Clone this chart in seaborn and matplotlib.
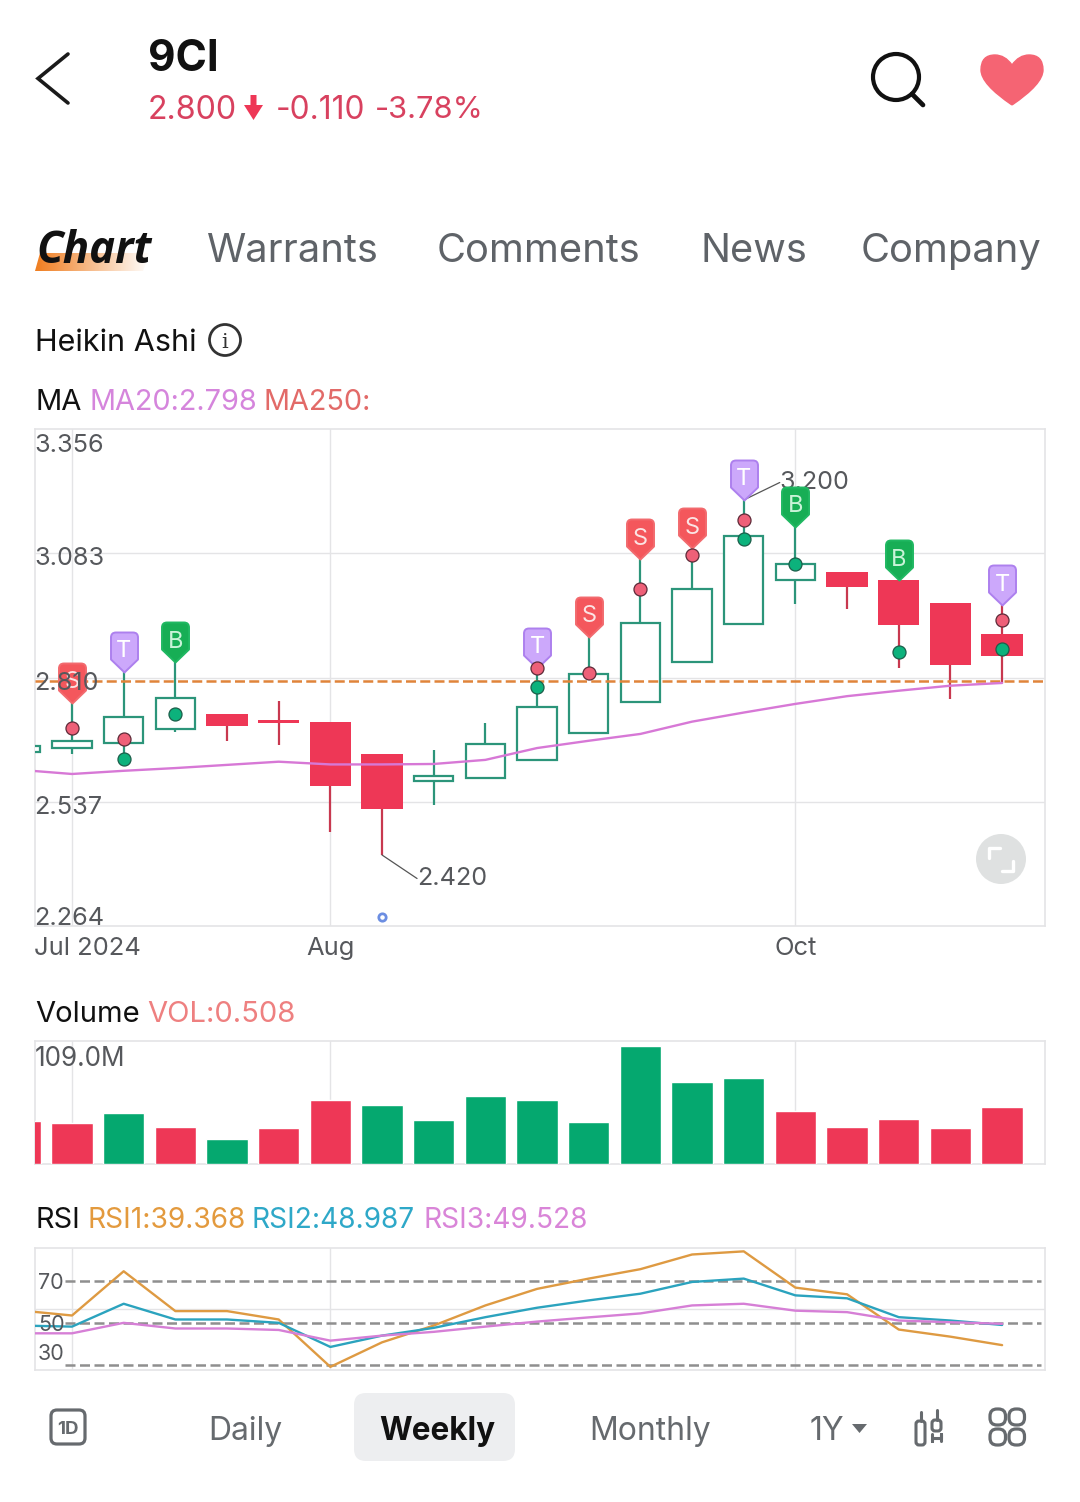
import matplotlib
matplotlib.use("Agg")
import matplotlib.pyplot as plt
from matplotlib.patches import Circle, FancyBboxPatch, PathPatch, Polygon
from matplotlib.path import Path
import numpy as np
import pandas as pd
import seaborn as sns

sns.set_theme(style="white")
plt.rcParams["font.family"] = ["Inter", "DejaVu Sans"]

W, H = 1080, 1502

# Candles, weekly (Heikin Ashi). The first one is cut off by the left edge.
weeks = list(range(-1, 19))
up = [True, True, True, True, False, False, False, False, True, True,
      True, True, True, True, True, True, False, False, False, False]
body_top = [2.660, 2.671, 2.724, 2.765, 2.730, 2.716, 2.713, 2.642, 2.593, 2.664,
            2.746, 2.818, 2.930, 3.005, 3.120, 3.060, 3.042, 3.024, 2.974, 2.905]
body_bottom = [2.647, 2.655, 2.665, 2.696, 2.703, 2.710, 2.571, 2.521, 2.583, 2.590,
               2.629, 2.689, 2.756, 2.845, 2.927, 3.025, 3.008, 2.925, 2.838, 2.858]
high = [2.660, 2.754, 2.823, 2.844, 2.730, 2.759, 2.713, 2.642, 2.650, 2.709,
        2.831, 2.899, 3.070, 3.094, 3.200, 3.141, 3.042, 3.024, 2.974, 2.969]
low = [2.647, 2.641, 2.631, 2.691, 2.671, 2.661, 2.471, 2.420, 2.530, 2.590,
       2.629, 2.689, 2.756, 2.845, 2.927, 2.971, 2.960, 2.830, 2.762, 2.797]
ma20 = [2.607, 2.598, 2.605, 2.611, 2.618, 2.625, 2.619, 2.619, 2.620, 2.629,
        2.655, 2.671, 2.686, 2.713, 2.733, 2.752, 2.769, 2.781, 2.792, 2.798]
volume = [38.1, 36.3, 45.6, 33.2, 22.2, 32.3, 56.7, 52.3, 39.4, 60.7,
          56.3, 36.8, 104.6, 72.7, 75.8, 47.0, 32.8, 39.9, 31.9, 50.5]
vol_up = [False, False, True, False, True, False, False, True, True, True,
          True, True, True, True, True, False, False, False, False, False]
rsi1 = [55.9, 53.5, 74.6, 55.6, 55.6, 51.6, 29.0, 40.7, 48.7, 58.3,
        66.2, 71.1, 75.6, 82.6, 84.1, 66.8, 63.6, 46.8, 43.4, 39.368]
rsi2 = [48.7, 48.2, 59.1, 51.6, 51.6, 50.0, 38.5, 43.9, 47.6, 52.7,
        57.2, 60.7, 63.9, 69.5, 71.1, 63.1, 61.7, 52.7, 51.1, 48.987]
rsi3 = [45.0, 45.0, 50.0, 47.3, 47.3, 46.6, 41.5, 43.9, 45.7, 48.2,
        50.6, 52.6, 54.5, 58.3, 59.1, 55.8, 55.1, 51.1, 50.3, 49.528]

# Signal dots and flags
red_dot_weeks = [0, 1, 9, 10, 11, 12, 13, 18]
red_dot_price = [2.700, 2.675, 2.830, 2.820, 3.005, 3.079, 3.157, 2.936]
green_dot_weeks = [1, 2, 9, 13, 14, 16, 18]
green_dot_price = [2.630, 2.730, 2.790, 3.114, 3.060, 2.865, 2.872]
flag_weeks = [0, 1, 2, 9, 10, 11, 12, 13, 14, 16, 18]
flag_letters = ["S", "T", "B", "T", "S", "S", "S", "T", "B", "B", "T"]

price_ticks = [3.356, 3.083, 2.810, 2.537, 2.264]
price_line = 2.802
month_weeks = [0, 5, 14]
month_labels = ["Jul 2024", "Aug", "Oct"]
rsi_levels = [70, 50, 30]
rsi_grid = 56.7
low_dot_week, low_dot_price = 6, 2.284

GRID = "#E4E4E6"
TICK = "#56585C"
GREEN = "#2C957A"
GREEN_BAR = "#05A86F"
RED = "#EE3756"
RED_WICK = "#C8384F"
TAB = "#5F6368"
XLIM = (-0.716, 18.83)
VA = "center_baseline"

candles = pd.DataFrame({"week": weeks, "ma20": ma20, "volume": volume,
                        "vol_up": vol_up, "rsi1": rsi1, "rsi2": rsi2, "rsi3": rsi3})

fig = plt.figure(figsize=(W / 100, H / 100), dpi=100, facecolor="white")


def panel(x0, y0, x1, y1):
    ax = fig.add_axes([x0 / W, 1 - y1 / H, (x1 - x0) / W, (y1 - y0) / H])
    ax.set_xlim(*XLIM)
    ax.set_xticks([])
    ax.set_yticks([])
    for s in ax.spines.values():
        s.set_color(GRID)
        s.set_linewidth(1.2)
    for m in month_weeks:
        ax.axvline(m, color=GRID, lw=1.0, zorder=0)
    return ax


# Price panel
ax = panel(35, 429, 1045, 926)
ax.set_ylim(price_ticks[-1], price_ticks[0])
for t in price_ticks[1:-1]:
    ax.axhline(t, color=GRID, lw=1.0, zorder=0)
ax.axhline(price_line, color="#E0843A", lw=1.8, ls=(0, (4, 1.7)), zorder=4)

for w, is_up, top, bot, hi, lo in zip(weeks, up, body_top, body_bottom, high, low):
    col = GREEN if is_up else RED_WICK
    ax.vlines(w, lo, hi, color=col, lw=1.6, zorder=2)
    if is_up:
        ax.bar(w, top - bot, bottom=bot, width=0.76, facecolor="white",
               edgecolor=GREEN, linewidth=1.6, zorder=3)
    else:
        ax.bar(w, top - bot, bottom=bot, width=0.8, color=RED, linewidth=0, zorder=3)

sns.lineplot(data=candles, x="week", y="ma20", ax=ax, color="#D778D6", lw=1.7,
             errorbar=None, zorder=4)

sns.scatterplot(x=red_dot_weeks, y=red_dot_price, ax=ax, color="#EE6078", s=88,
                edgecolor="#5E2A38", linewidth=0.9, zorder=7)
sns.scatterplot(x=green_dot_weeks, y=green_dot_price, ax=ax, color="#0CB27C", s=88,
                edgecolor="#1C5E4A", linewidth=0.9, zorder=7)
sns.scatterplot(x=[low_dot_week], y=[low_dot_price], ax=ax, color="white", s=28,
                edgecolor="#6C8EE2", linewidth=2.0, zorder=7)

# pin shape with the tip on the wick's high
pin = Path([(0, 0), (13.5, 13), (13.5, 35), (13.5, 40), (8.5, 40), (-8.5, 40),
            (-13.5, 40), (-13.5, 35), (-13.5, 13), (0, 0)],
           [Path.MOVETO, Path.LINETO, Path.LINETO, Path.CURVE3, Path.CURVE3, Path.LINETO,
            Path.CURVE3, Path.CURVE3, Path.LINETO, Path.CLOSEPOLY])
flag_style = {"S": ("#F4575C", "#F26A6E", "#FBE4E4"),
              "T": ("#CCA8FB", "#AD80EE", "#FFFFFF"),
              "B": ("#17AE55", "#20B862", "#C9F3D8")}
for w, letter in zip(flag_weeks, flag_letters):
    fill, edge, ink = flag_style[letter]
    tip = high[weeks.index(w)]
    ax.scatter([w], [tip], marker=pin, s=3318, facecolor=fill, edgecolor=edge,
               linewidth=1.4, zorder=6, clip_on=False)
    ax.annotate(letter, (w, tip), xytext=(0, 23), textcoords="offset pixels",
                ha="center", va=VA, color=ink, fontsize=17, zorder=6.5)

# extremes
leader = dict(arrowstyle="-", color="#555555", lw=0.9, shrinkA=0, shrinkB=0,
              patchA=None, relpos=(0, 0.5))
ax.annotate("2.420", (6, min(low)), xytext=(35, -21), textcoords="offset pixels",
            ha="left", va=VA, color=TICK, fontsize=18.1, zorder=5, arrowprops=leader)
ax.annotate("3.200", (13, max(high)), xytext=(36, 20), textcoords="offset pixels",
            ha="left", va=VA, color=TICK, fontsize=18.1, zorder=5, arrowprops=leader)

# tick labels sit inside the panel
tick_offsets = [-14, -3, -4, -3, 10]
for t, off in zip(price_ticks, tick_offsets):
    ax.annotate(f"{t:.3f}", (0, t), xycoords=("axes fraction", "data"), xytext=(-1, off),
                textcoords="offset pixels", ha="left", va=VA, color=TICK,
                fontsize=18.2, zorder=10)

month_has = ["left", "center", "center"]
for m, label_text, ha in zip(month_weeks, month_labels, month_has):
    if ha == "left":
        ax.annotate(label_text, (0, 0), xycoords="axes fraction", xytext=(-1, -20),
                    textcoords="offset pixels", ha="left", va=VA, color=TICK, fontsize=18.4)
    else:
        ax.annotate(label_text, (m, 0), xycoords=("data", "axes fraction"), xytext=(0, -20),
                    textcoords="offset pixels", ha="center", va=VA, color=TICK, fontsize=18.4)

# Volume panel
vax = panel(35, 1041, 1045, 1164)
sns.barplot(data=candles, x="week", y="volume", hue="vol_up", native_scale=True,
            palette={True: GREEN_BAR, False: RED}, dodge=False, width=0.8, saturation=1,
            legend=False, ax=vax, zorder=3)
vax.set_xlim(*XLIM)
vax.set_ylim(0, 109.0)
vax.set(xlabel=None, ylabel=None, xticks=[], yticks=[])
vax.annotate("109.0M", (0, 1), xycoords="axes fraction", xytext=(0, -15),
             textcoords="offset pixels", ha="left", va=VA, color=TICK, fontsize=18.8, zorder=10)

# RSI panel
rax = panel(35, 1248, 1045, 1370)
rax.set_ylim(27.5, 85.7)
rax.axhline(rsi_grid, color=GRID, lw=1.0, zorder=0)
for lv, label_off in zip(rsi_levels, [0, 0, 13]):
    rax.axhline(lv, xmin=0.03, xmax=0.996, color="#8F8F8F", lw=1.8, ls=(0, (4, 1.8)), zorder=1)
    rax.annotate(str(lv), (0, lv), xycoords=("axes fraction", "data"), xytext=(3, label_off),
                 textcoords="offset pixels", ha="left", va=VA, color=TICK, fontsize=15.5, zorder=10)
for name, col in [("rsi1", "#DE9A42"), ("rsi2", "#2BA3BE"), ("rsi3", "#D67FD6")]:
    sns.lineplot(data=candles, x="week", y=name, ax=rax, color=col, lw=1.7, errorbar=None, zorder=3)
rax.set(xlabel=None, ylabel=None, xticks=[], yticks=[])

# App chrome, drawn in pixel coordinates on top of everything
ui = fig.add_axes([0, 0, 1, 1], zorder=10)
ui.set_xlim(0, W)
ui.set_ylim(H, 0)
ui.axis("off")
ui.patch.set_alpha(0)


def label(x, y, s, size, color="#111111", **kw):
    ui.text(x, y, s, fontsize=size, color=color, ha=kw.pop("ha", "left"), va=VA, **kw)


ui.plot([68, 38, 68], [54, 78.5, 103], color="#1A1A1A", lw=2.6, solid_joinstyle="miter")
label(148, 55, "9CI", 30.5, weight="bold")
price_red = "#D8415F"
label(148, 107, "2.800", 23.2, price_red)
ui.add_patch(Polygon([(250.5, 95), (256.5, 95), (256.5, 105), (263, 105), (253.5, 120), (244, 105), (250.5, 105)],
                     color="#EE3756", lw=0))
label(276, 107, "-0.110", 22.8, price_red)
label(375, 107, "-3.78%", 22.2, price_red)

ui.add_patch(Circle((896, 77), 23, fill=False, ec="#111111", lw=3))
ui.plot([912, 923], [94, 105], color="#111111", lw=3.4, solid_capstyle="round")
heart = Path([(1012, 105), (981, 84), (981, 70), (981, 55), (995, 55), (1005, 55), (1012, 65),
              (1019, 55), (1029, 55), (1043, 55), (1043, 70), (1043, 84), (1012, 105)],
             [Path.MOVETO, Path.CURVE3, Path.CURVE3, Path.CURVE3, Path.CURVE3, Path.CURVE3, Path.CURVE3,
              Path.CURVE3, Path.CURVE3, Path.CURVE3, Path.CURVE3, Path.CURVE3, Path.CURVE3])
ui.add_patch(PathPatch(heart, fc="#F56473", ec="#F56473", lw=1))

# tab underline fades out to the right
under = np.ones((1, 256, 4))
under[..., :3] = (0.94, 0.49, 0.12)
under[..., 3] = np.linspace(1, 0, 256)
img = ui.imshow(under, extent=(35, 150, 271, 253), aspect="auto", zorder=1)
img.set_clip_path(Polygon([(40, 253), (150, 253), (143, 271), (35, 271)], transform=ui.transData))
ui.set_xlim(0, W)
ui.set_ylim(H, 0)
ui.text(36, 246, "Chart", fontsize=31.5, color="#111111", family="Open Sans", weight="bold",
        style="italic", va=VA, zorder=2)
for x, s in zip([207, 437, 700, 861], ["Warrants", "Comments", "News", "Company"]):
    label(x, 247, s, 28.7, TAB)

label(35, 340, "Heikin Ashi", 22)
ui.add_patch(Circle((225, 340), 15.5, fill=False, ec="#333333", lw=2))
ui.text(225, 340, "i", fontsize=15, color="#333333", family="DejaVu Serif", ha="center", va=VA)
label(35, 399, "MA", 21)
label(90, 399, "MA20:2.798", 20.8, "#D585DC")
label(263, 399, "MA250:", 20.8, "#E26A68")
label(35, 1012, "Volume", 21)
label(147, 1012, "VOL:0.508", 21, "#EE8080")
label(35, 1217, "RSI", 20.8)
label(88, 1217, "RSI1:39.368", 20.2, "#E39A3E")
label(252, 1217, "RSI2:48.987", 20.2, "#2EA8C8")
label(423, 1217, "RSI3:49.528", 20.2, "#D985D8")

# expand button
ui.add_patch(Circle((1001, 859), 25, fc="#DFE1E1", ec="none"))
ui.plot([989, 989, 1000], [858, 848, 848], color="white", lw=2.4)
ui.plot([1013, 1013, 1002], [861, 871, 871], color="white", lw=2.4)

# bottom bar
grey = "#666A6E"
ui.add_patch(FancyBboxPatch((51, 1410), 34, 34, boxstyle="round,pad=0,rounding_size=6",
                            fc="none", ec=grey, lw=2.3))
ui.text(68, 1427, "1D", fontsize=13.5, color=grey, weight="bold", ha="center", va=VA)
label(208, 1428, "Daily", 23, grey)
ui.add_patch(FancyBboxPatch((354, 1393), 161, 68, boxstyle="round,pad=0,rounding_size=12",
                            fc="#EDEEF0", ec="none"))
label(379, 1428, "Weekly", 22.7, weight="bold")
label(589, 1428, "Monthly", 23, grey)
label(810, 1428, "1Y", 23, grey)
ui.add_patch(Polygon([(852, 1424), (867, 1424), (859.5, 1433)], color=grey, lw=0))

# candle icon
ui.add_patch(FancyBboxPatch((916, 1421), 9, 24, boxstyle="round,pad=0,rounding_size=3",
                            fc="none", ec=grey, lw=2.2))
ui.plot([920.5, 920.5], [1412, 1421], color=grey, lw=2.2)
ui.add_patch(FancyBboxPatch((932, 1420), 9, 11, boxstyle="round,pad=0,rounding_size=3",
                            fc="none", ec=grey, lw=2.2))
ui.plot([936.5, 936.5], [1410, 1420], color=grey, lw=2.2)
ui.plot([932, 932, 932, 941, 941, 941], [1434, 1441, 1437.5, 1437.5, 1434, 1441], color=grey, lw=2.2)

# grid icon
for gx in (990, 1009):
    for gy in (1409, 1429):
        ui.add_patch(FancyBboxPatch((gx, gy), 15.5, 16, boxstyle="round,pad=0,rounding_size=7",
                                    fc="none", ec=grey, lw=2.3))

fig.savefig("out.png", dpi=100)
